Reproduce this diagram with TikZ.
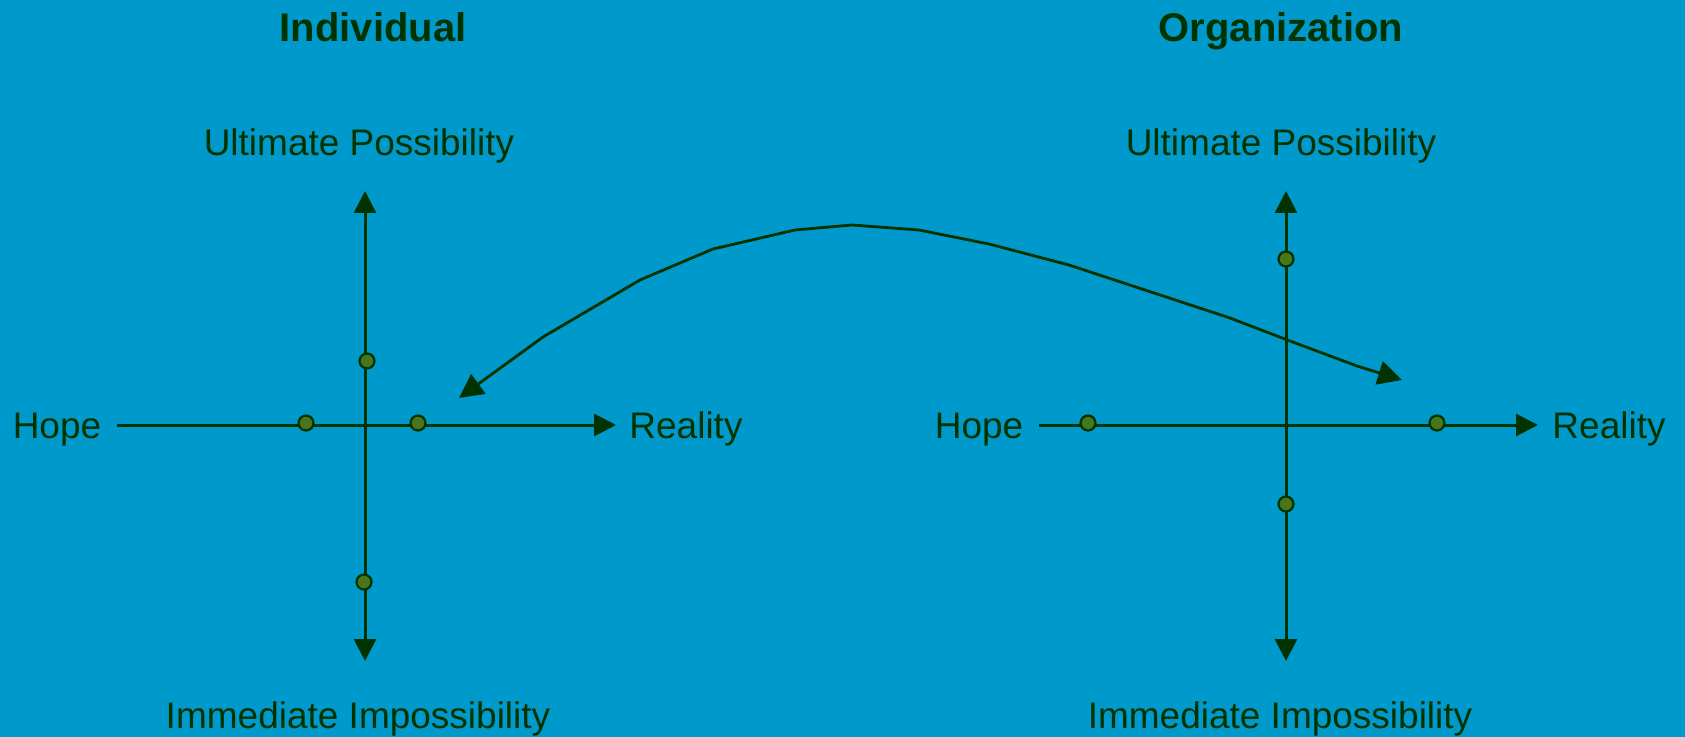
\documentclass[tikz,border=0pt]{standalone}
\usepackage{fontspec}
\setmainfont{Liberation Sans}
\usetikzlibrary{arrows.meta}
\definecolor{haikei}{RGB}{0,153,204}
\definecolor{senshoku}{RGB}{0,51,0}
\definecolor{tenshoku}{RGB}{72,118,28}
\tikzset{
  axis/.style={line width=1.5pt, draw=senshoku, >={Triangle[length=11pt,width=11pt]}},
  dot/.style={circle, draw=senshoku, fill=tenshoku, line width=1.1pt, inner sep=0pt, minimum size=7.5pt},
  heading/.style={text=senshoku, anchor=base, font=\fontsize{20}{24}\selectfont\bfseries},
  axtext/.style={text=senshoku, anchor=base, font=\fontsize{18.5}{22}\selectfont},
}
\begin{document}
\begin{tikzpicture}[x=0.5pt,y=-0.5pt]
   % 背景
   \fill[haikei] (0,0) rectangle (1685,737);
   \useasboundingbox (0,0) rectangle (1685,737);

   % 見出し
   \node[heading] (indiv) at (373,42) {Individual};
   \node[heading] (org) at (1281,42) {Organization};

   % 左の座標軸
   \node[axtext] (lup) at (359,156) {Ultimate Possibility};
   \node[axtext] (ldown) at (358,728) {Immediate Impossibility};
   \node[axtext] (lhope) at (57,438) {Hope};
   \node[axtext] (lreal) at (686,438) {Reality};
   \coordinate (ltop) at (365,191);
   \coordinate (lbot) at (365,661);
   \coordinate (lleft) at (117,425);
   \coordinate (lright) at (616,425);
   \draw[axis,<->] (ltop) -- (lbot);
   \draw[axis,->] (lleft) -- (lright);
   \node[dot] (l1) at (367,361) {};
   \node[dot] (l2) at (306,423) {};
   \node[dot] (l3) at (418,423) {};
   \node[dot] (l4) at (364,582) {};

   % 右の座標軸
   \node[axtext] (rup) at (1281,156) {Ultimate Possibility};
   \node[axtext] (rdown) at (1280,728) {Immediate Impossibility};
   \node[axtext] (rhope) at (979,438) {Hope};
   \node[axtext] (rreal) at (1609,438) {Reality};
   \coordinate (rtop) at (1286,191);
   \coordinate (rbot) at (1286,661);
   \coordinate (rleft) at (1039,425);
   \coordinate (rright) at (1538,425);
   \draw[axis,<->] (rtop) -- (rbot);
   \draw[axis,->] (rleft) -- (rright);
   \node[dot] (r1) at (1286,259) {};
   \node[dot] (r2) at (1088,423) {};
   \node[dot] (r3) at (1437,423) {};
   \node[dot] (r4) at (1286,504) {};

   % 両者をつなぐ曲線
   \coordinate (ca) at (459,398);
   \coordinate (cb) at (1402,380);
   \draw[axis,line width=1.4pt,line join=round,<->,>={Triangle[length=12pt,width=12pt]}]
      (ca) -- (543,337) -- (640,280) -- (713,249) -- (795,230) -- (852,225)
      -- (919,230) -- (989,244) -- (1069,265) -- (1230,318) -- (1290,341)
      -- (1357,366) -- (cb);
\end{tikzpicture}
\end{document}
